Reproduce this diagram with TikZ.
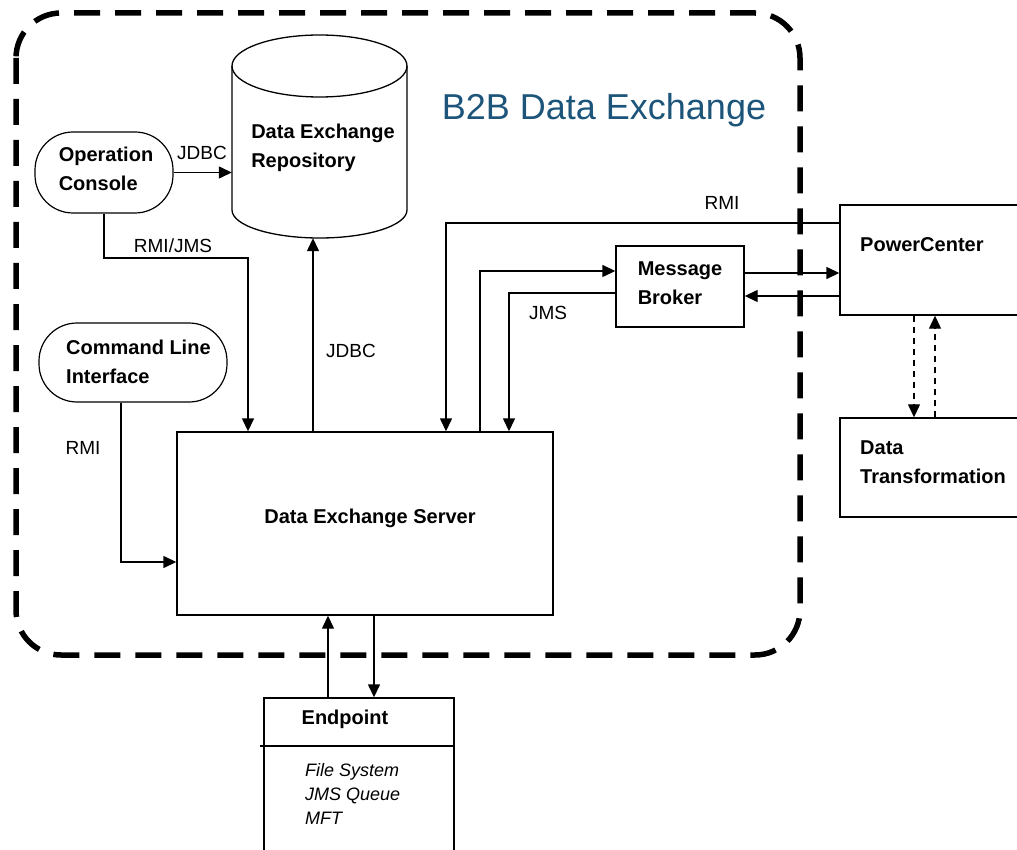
\documentclass[tikz,border=0pt]{standalone}
\usepackage{fontspec}
\setmainfont{Liberation Sans}
\usetikzlibrary{arrows.meta,calc}
\definecolor{titleblue}{RGB}{28,84,122}
\begin{document}
\begin{tikzpicture}[x=1pt,y=-1pt,
  box/.style={draw, line width=1.4pt, rectangle, inner sep=0pt},
  stadium/.style={draw, line width=1.2pt, rounded corners=38pt, inner sep=0pt},
  lbl/.style={font=\fontsize{20}{29}\selectfont\bfseries, align=left, inner sep=0pt},
  conn/.style={font=\fontsize{19}{24}\selectfont, inner sep=0pt},
  arr/.style={line width=1.4pt, -{Triangle[length=13pt,width=12pt]}},
  ln/.style={line width=1.4pt},
  darr/.style={line width=1.2pt, dash pattern=on 6pt off 5pt, -{Triangle[length=13pt,width=12pt]}},
  border/.style={line width=5.5pt, dash pattern=on 26pt off 15pt, rounded corners=45pt}]
\useasboundingbox (0,0) rectangle (1017,850);

% outer dashed boundary
\draw[border] (16,13) rectangle (800,655);
\node[text=titleblue, font=\fontsize{36}{40}\selectfont, inner sep=0pt] (title) at (604,110) {B2B Data Exchange};

% repository cylinder
\node[inner sep=0pt, minimum width=175pt, minimum height=203pt] (repo) at (319.5,136.5) {};
\draw[line width=1.3pt] (319.5,66) ellipse [x radius=87.5pt, y radius=31pt];
\draw[line width=1.3pt] (232,66) -- (232,210) arc[start angle=180, end angle=360, x radius=87.5pt, y radius=28pt] -- (407,66);
\node[lbl] (repotext) at (323,148) {Data Exchange\\Repository};

% clients
\node[stadium, minimum width=138pt, minimum height=81pt] (opc) at (104,172.5) {};
\node[lbl] (opctext) at (106,169) {Operation\\Console};
\node[stadium, minimum width=188pt, minimum height=79pt] (cli) at (133,362.5) {};
\node[lbl, anchor=west] (clitext) at (66,362) {Command Line\\Interface};

% server
\node[box, minimum width=376pt, minimum height=183pt] (server) at (365,523.5) {};
\node[lbl] (servertext) at (370,518) {Data Exchange Server};

% message broker
\node[box, minimum width=128pt, minimum height=81pt] (broker) at (680,286.5) {};
\node[lbl] (brokertext) at (680,283) {Message\\Broker};

% PowerCenter & Data Transformation
\node[box, minimum width=185pt, minimum height=110pt] (pc) at (932.5,260) {};
\node[lbl, anchor=west] (pctext) at (860,245) {PowerCenter};
\node[box, minimum width=185pt, minimum height=99pt] (dt) at (932.5,467.5) {};
\node[lbl, anchor=west] (dttext) at (860,462) {Data\\Transformation};

% endpoint
\node[box, minimum width=190pt, minimum height=164pt] (ep) at (359,780) {};
\coordinate (epdiv) at (0,746);
\draw[ln] ([xshift=-3pt]ep.west |- epdiv) -- (ep.east |- epdiv);
\node[lbl] (eptext) at (345,719) {Endpoint};
\node[font=\fontsize{18}{24}\selectfont\itshape, align=left, inner sep=0pt, anchor=west] (epitems) at (305,794) {File System\\JMS Queue\\MFT};

% connector helper coordinates
\coordinate (c1) at (248,258);
\coordinate (c2) at (313,0);
\coordinate (c3) at (121,562);
\coordinate (k1) at (446,223);
\coordinate (k2) at (480,271);
\coordinate (k3) at (509,293);
\coordinate (k4) at (744,273);
\coordinate (k5) at (744,296);
\coordinate (k6) at (914,0);
\coordinate (k7) at (935,0);
\coordinate (k8) at (328,0);
\coordinate (k9) at (374,0);

% connectors
\draw[arr] (opc.east) -- (opc.east -| repo.west);
\draw[arr] (opc.south) |- (c1) -- (c1 |- server.north);
\draw[arr] (server.north -| c2) -- (repo.south -| c2);
\draw[arr] (cli.south -| c3) -- (c3) -- (c3 -| server.west);
\draw[arr] (pc.west |- k1) -- (k1) -- (k1 |- server.north);
\draw[arr] (server.north -| k2) -- (k2) -- (k2 -| broker.west);
\draw[arr] (broker.west |- k3) -- (k3) -- (k3 |- server.north);
\draw[arr] (broker.east |- k4) -- (k4 -| pc.west);
\draw[arr] (pc.west |- k5) -- (broker.east |- k5);
\draw[darr] (pc.south -| k6) -- (dt.north -| k6);
\draw[darr] (dt.north -| k7) -- (pc.south -| k7);
\draw[arr] (ep.north -| k8) -- (server.south -| k8);
\draw[arr] (server.south -| k9) -- (ep.north -| k9);

% connector labels
\node[conn] (l1) at (202,153) {JDBC};
\node[conn] (l2) at (173,246) {RMI/JMS};
\node[conn] (l3) at (351,351) {JDBC};
\node[conn] (l4) at (83,448) {RMI};
\node[conn] (l5) at (722,203) {RMI};
\node[conn] (l6) at (548,313) {JMS};
\end{tikzpicture}
\end{document}
